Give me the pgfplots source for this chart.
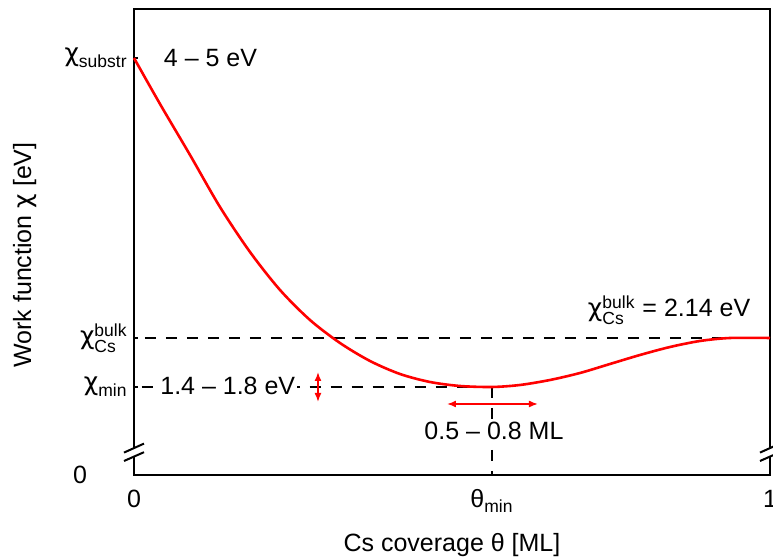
\documentclass[border=0pt]{standalone}
\usepackage{fontspec}
\setmainfont{Liberation Sans}
\newfontfamily\greekfont{DejaVu Sans}
\usepackage{amsmath}
\usepackage{pgfplots}
\pgfplotsset{compat=1.18}
\usetikzlibrary{arrows.meta}
\newcommand{\gchi}{\text{\greekfont χ}}

\begin{document}
\begin{tikzpicture}[font=\fontsize{12.5}{15}\selectfont]
\begin{axis}[
  scale only axis, width=318pt, height=233pt,
  xmin=0, xmax=1, ymin=0, ymax=466,
  axis line style={line width=1.1pt},
  clip=false,
  tick pos=left, tick align=inside, major tick length=2pt,
  tick style={black, line width=0.8pt},
  xtick={0,0.5629,1}, xticklabels={0,$\text{θ}_{\text{min}}$,1},
  ytick={88,137,417},
  yticklabels={$\gchi_{\text{min}}$,$\gchi^{\text{bulk}}_{\text{Cs}}$,$\gchi_{\text{substr}}$},
  xticklabel style={anchor=base, yshift=-16.5pt},
  yticklabel style={anchor=east, inner sep=0pt, xshift=-3pt},
  xlabel={Cs coverage θ [ML]}, ylabel={Work function \gchi{} [eV]},
  xlabel style={at={(axis description cs:0.5,-0.150)}, anchor=center},
  ylabel style={at={(axis description cs:-0.172,0.472)}, anchor=center},
]
% guide lines
\draw[black, line width=1pt, dash pattern=on 5.5pt off 5pt] (axis cs:0.017,137) -- (axis cs:1,137);
\draw[black, line width=1pt, dash pattern=on 5.5pt off 5pt] (axis cs:0.012,88) -- (axis cs:0.5629,88);
\draw[black, line width=1pt, dash pattern=on 5.5pt off 5pt] (axis cs:0.5629,88) -- (axis cs:0.5629,0);

\addplot[red, line width=1.3pt, smooth] coordinates {
 (0,417) (0.0409,371) (0.0881,320) (0.1352,268) (0.1824,223)
 (0.2296,185) (0.2767,155) (0.3239,132) (0.3711,114) (0.4182,101)
 (0.4654,93) (0.5126,89) (0.5629,88) (0.6069,90) (0.6541,95)
 (0.7013,102) (0.7484,111) (0.7956,120) (0.8428,128) (0.8899,134)
 (0.9371,137) (1,137)
};

% annotations
\node[anchor=base west] at (axis cs:0.036,408) {4 -- 5 eV};
\node[anchor=base east] at (axis cs:0.98,158) {$\gchi^{\text{bulk}}_{\text{Cs}}$ = 2.14 eV};
\node[anchor=base west, fill=white, inner sep=1pt] at (axis cs:0.0377,80) {1.4 -- 1.8 eV};
\node[anchor=base, fill=white, inner sep=1pt] at (axis cs:0.566,35) {0.5 -- 0.8 ML};
\draw[red, line width=0.8pt, {Latex[length=4.5pt,width=3.5pt]}-{Latex[length=4.5pt,width=3.5pt]}]
  (axis cs:0.2893,103) -- (axis cs:0.2893,73);
\draw[red, line width=0.8pt, {Latex[length=4.5pt,width=3.5pt]}-{Latex[length=4.5pt,width=3.5pt]}]
  (axis cs:0.4921,71) -- (axis cs:0.6352,71);
\node at ([xshift=-27pt]axis cs:0,0) {0};
\end{axis}

% axis breaks
\fill[white] (-1.2pt,9.3pt) rectangle (1.2pt,13.3pt);
\draw[line width=1pt] (-5pt,11.2pt) -- (5pt,15.7pt);
\draw[line width=1pt] (-5pt,7pt) -- (5pt,11.4pt);
\fill[white] (316.8pt,9.3pt) rectangle (319.2pt,13.3pt);
\draw[line width=1pt] (313pt,11.2pt) -- (323pt,15.7pt);
\draw[line width=1pt] (313pt,7pt) -- (323pt,11.4pt);

\pgfresetboundingbox
\path[use as bounding box] (-67pt,-42.5pt) rectangle (319.5pt,237.5pt);
\end{tikzpicture}
\end{document}
